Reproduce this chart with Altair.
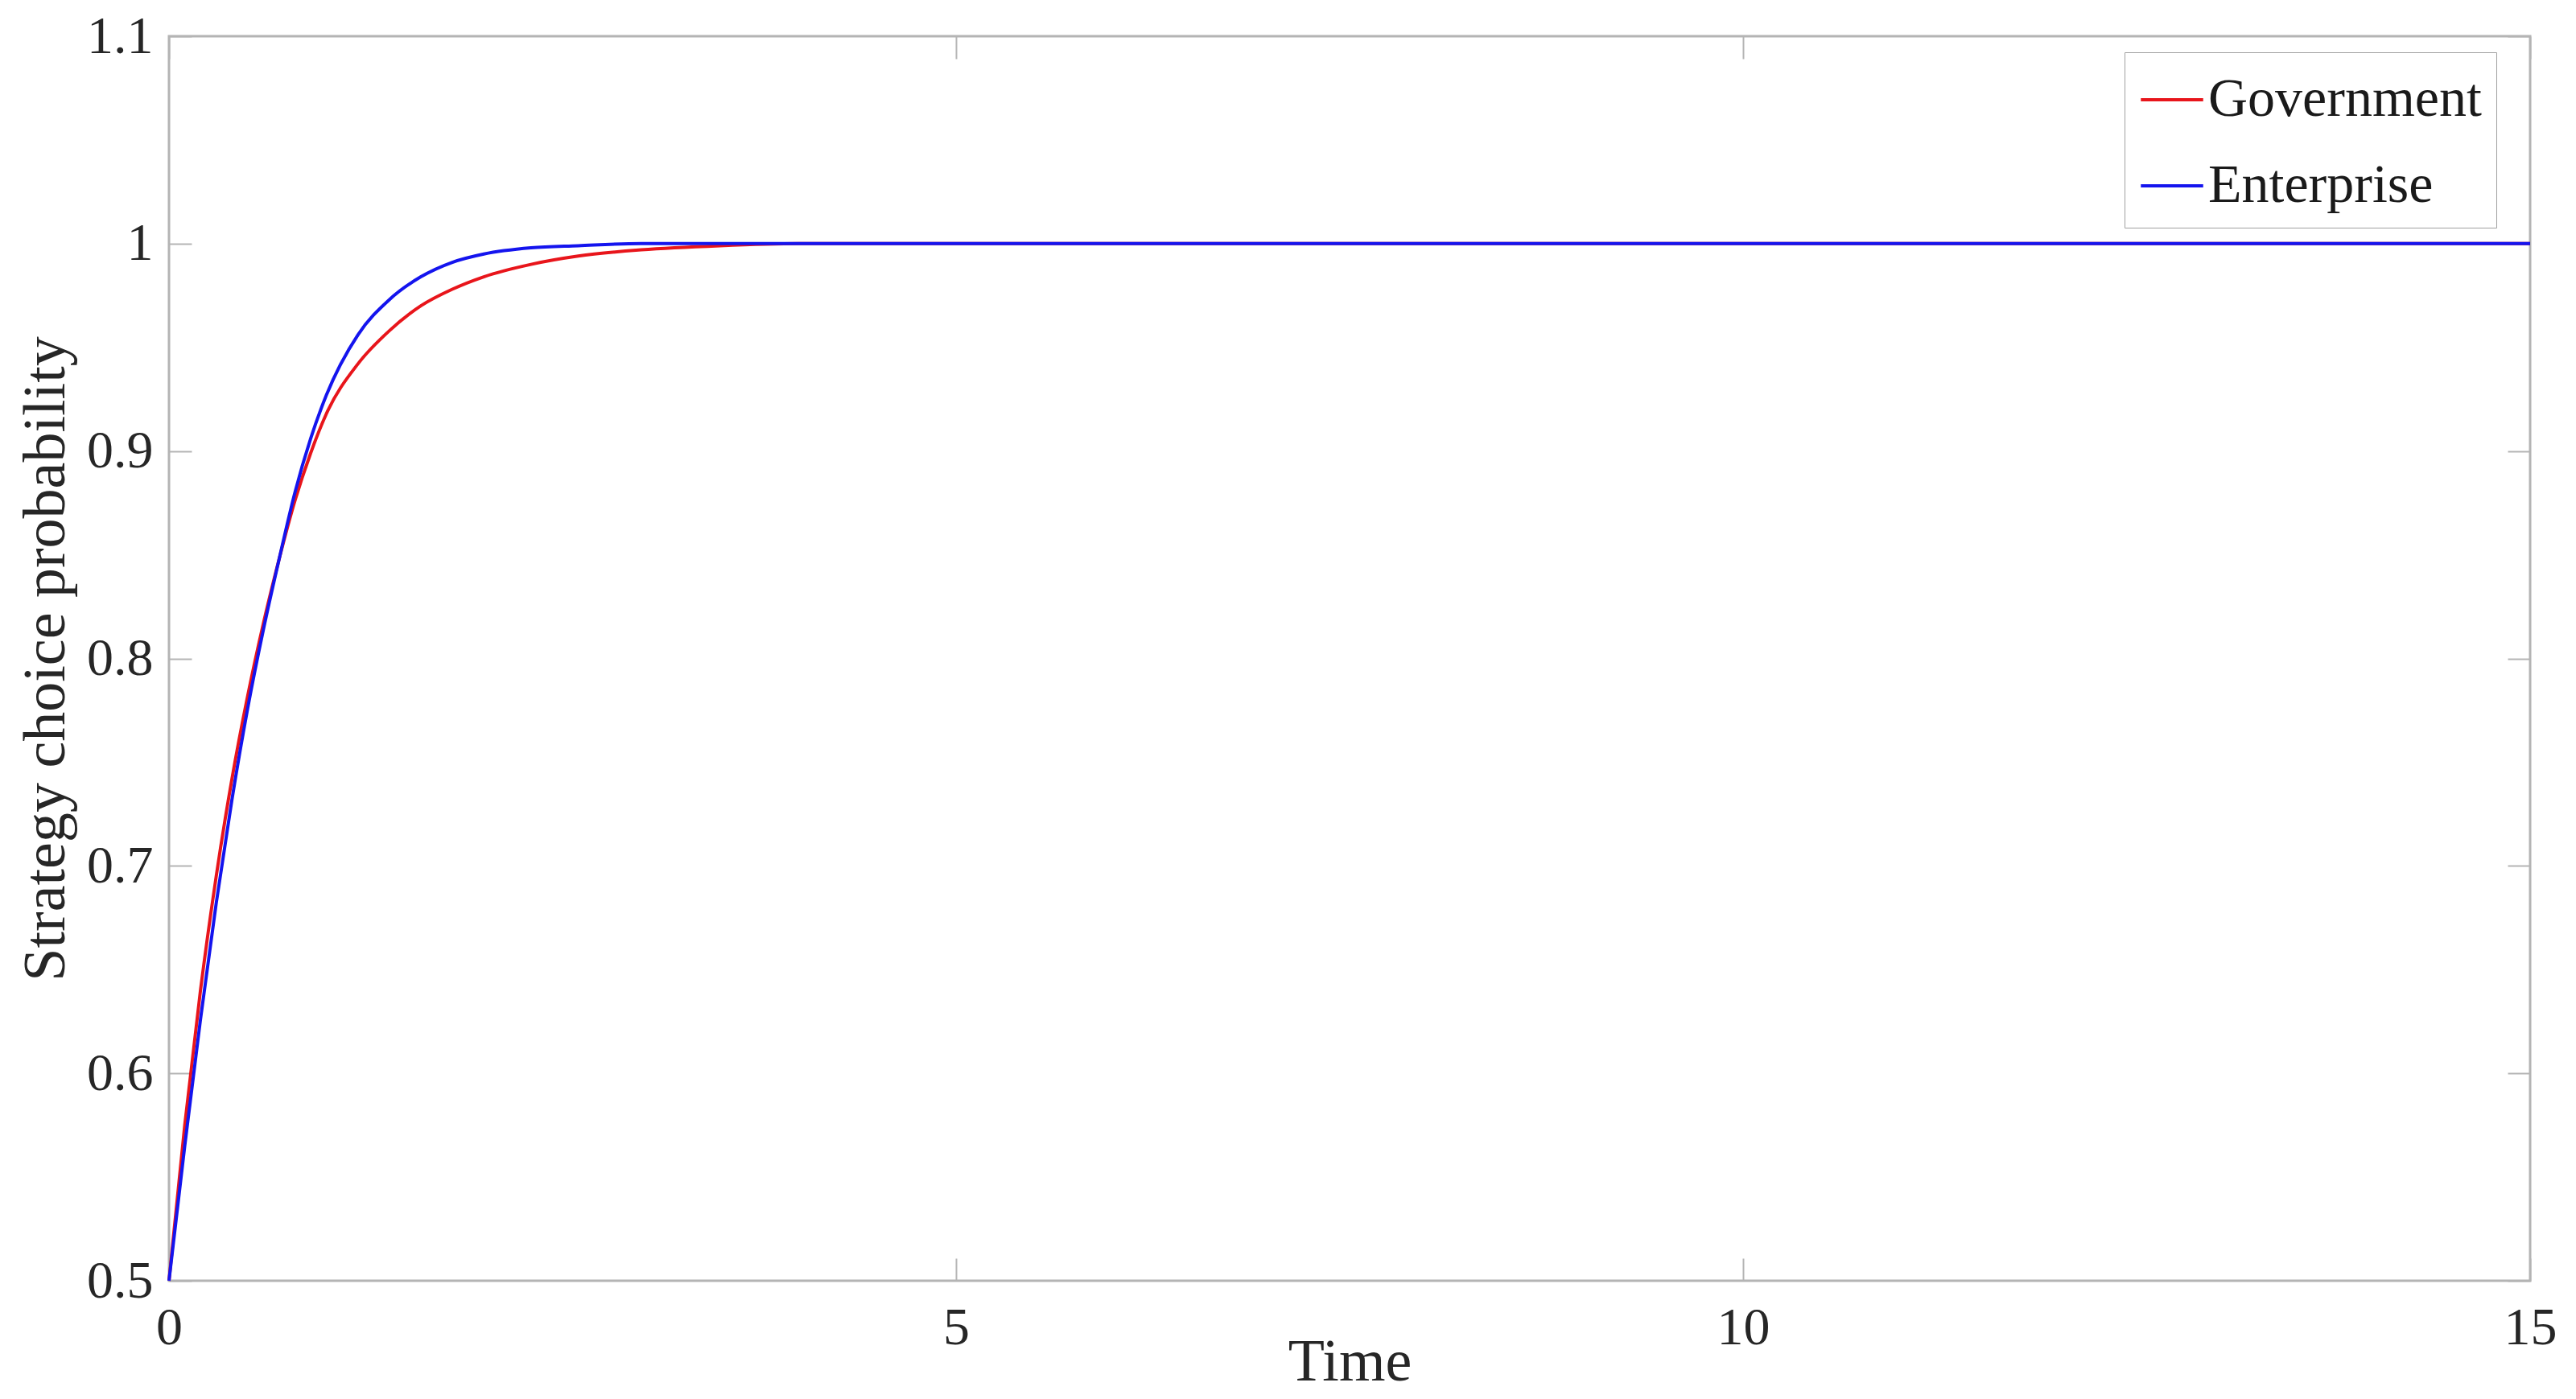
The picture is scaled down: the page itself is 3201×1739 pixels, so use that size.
import altair as alt
import pandas as pd

time = [0, 0.1, 0.2, 0.3, 0.4, 0.5, 0.6, 0.7, 0.8, 0.9, 1.0, 1.2, 1.4, 1.6, 1.8,
        2.0, 2.3, 2.6, 3.0, 3.5, 4.0, 5.0, 6.0, 7.0, 8.0, 9.0, 10.0, 11.0, 12.0,
        13.0, 14.0, 15.0]
government = [0.5, 0.575, 0.64, 0.695, 0.742, 0.782, 0.817, 0.848, 0.876, 0.899,
              0.918, 0.942, 0.958, 0.970, 0.978, 0.984, 0.990, 0.994, 0.997,
              0.999, 1.0, 1.0, 1.0, 1.0, 1.0, 1.0, 1.0, 1.0, 1.0, 1.0, 1.0, 1.0]
enterprise = [0.5, 0.565, 0.626, 0.682, 0.732, 0.776, 0.814, 0.848, 0.88, 0.906,
              0.927, 0.956, 0.973, 0.984, 0.991, 0.995, 0.998, 0.999, 1.0,
              1.0, 1.0, 1.0, 1.0, 1.0, 1.0, 1.0, 1.0, 1.0, 1.0, 1.0, 1.0, 1.0]
series_names = ["Government", "Enterprise"]
series_colors = ["#e8151b", "#1414ee"]
x_ticks = [0, 5, 10, 15]
y_ticks = [0.5, 0.6, 0.7, 0.8, 0.9, 1.0, 1.1]

rows = []
for name, vals in zip(series_names, [government, enterprise]):
    for t, v in zip(time, vals):
        rows.append({"Time": t, "value": v, "series": name})
df = pd.DataFrame(rows)

FONT = "Liberation Serif"
AX = "#b4b4b4"
TXT = "#262626"
TS = 28

x_scale = alt.Scale(domain=[0, 15], nice=False)
y_scale = alt.Scale(domain=[0.5, 1.1], nice=False, zero=False)

common = dict(grid=False, domain=False, tickSize=TS, tickColor=AX, tickWidth=2,
              offset=-TS, labelFont=FONT, labelFontSize=66, labelColor=TXT,
              labelFlush=False, titleFont=FONT, titleFontSize=74,
              titleFontWeight="normal", titleColor=TXT)

base = alt.Chart(df)

lines = base.mark_line(strokeWidth=4, interpolate="monotone").encode(
    x=alt.X("Time:Q", scale=x_scale,
            axis=alt.Axis(orient="bottom", values=x_ticks, title="Time",
                          labelPadding=26, titlePadding=-26, **common)),
    y=alt.Y("value:Q", scale=y_scale,
            axis=alt.Axis(orient="left", values=y_ticks, format="~g",
                          title="Strategy choice probability",
                          labelPadding=20, titlePadding=12, **common)),
    color=alt.Color("series:N",
                    scale=alt.Scale(domain=series_names, range=series_colors),
                    legend=alt.Legend(title=None, orient="none", legendX=2430,
                                      legendY=20, strokeColor="#a0a0a0",
                                      fillColor="white", padding=18,
                                      symbolType="stroke", symbolSize=6000,
                                      symbolStrokeWidth=4, labelFont=FONT,
                                      labelFontSize=68, labelColor="#1a1a1a",
                                      labelLimit=1000, rowPadding=32,
                                      labelOffset=4)),
)

ghost = base.mark_line(opacity=0).encode(
    x=alt.X("Time:Q", scale=x_scale,
            axis=alt.Axis(orient="top", values=x_ticks, title="", labels=False,
                          **common)),
    y=alt.Y("value:Q", scale=y_scale,
            axis=alt.Axis(orient="right", values=y_ticks, title="", labels=False,
                          **common)),
    detail="series:N",
)

chart = (
    alt.layer(lines, ghost)
    .resolve_axis(x="independent", y="independent")
    .properties(width=2934, height=1547,
                autosize=alt.AutoSizeParams(type="none"),
                padding={"left": 202, "top": 37, "right": 49, "bottom": 139})
    .configure_view(stroke=AX, strokeWidth=3)
)

chart.save("out.html", embed_options={"renderer": "svg", "actions": False})
